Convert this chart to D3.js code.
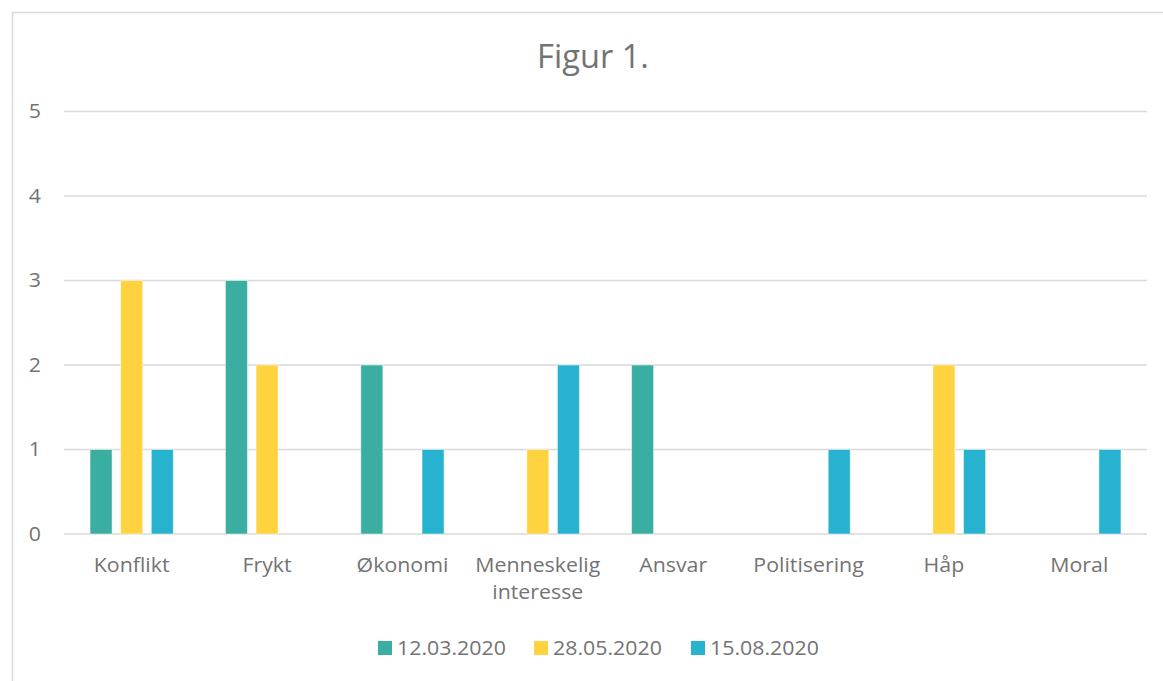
<!DOCTYPE html>
<html><head><meta charset="utf-8">
<script src="https://cdn.jsdelivr.net/npm/d3@7"></script>
<style>body{margin:0;background:#fff;} svg{display:block;font-family:"Open Sans",Lato,sans-serif;}</style>
</head><body>
<svg id="c" width="1163" height="681"></svg>
<script>
const categories = ["Konflikt","Frykt","Økonomi","Menneskelig interesse","Ansvar","Politisering","Håp","Moral"];
const seriesNames = ["12.03.2020","28.05.2020","15.08.2020"];
const s1 = [1,3,2,0,2,0,0,0];
const s2 = [3,2,0,1,0,0,2,0];
const s3 = [1,0,1,2,0,1,1,1];
const yTicks = [0,1,2,3,4,5];
const colors = ["#3AAFA1","#FFD23F","#27B2CF"];
const series = [s1,s2,s3];
const txt = "#737373";
const SX = 1.095, FS = 19.5;

const svg = d3.select("#c");
svg.append("rect").attr("x",12.5).attr("y",12.5).attr("width",1170).attr("height",690)
  .attr("fill","#fff").attr("stroke","#d9d9d9").attr("stroke-width",1.5);

const pL=64, pR=1147, pT=111.5, pB=534;
const x = d3.scaleBand().domain(categories).range([pL,pR]).paddingInner(0).paddingOuter(0);
const xs = d3.scaleBand().domain(seriesNames).range([0,83.3]).paddingInner(0.28);
const y = d3.scaleLinear().domain([0,5]).range([pB,pT]);

function label(parent, tx, ty, anchor, size, sx){
  return parent.append("text").attr("transform",`translate(${tx},${ty}) scale(${sx},1)`)
    .attr("text-anchor",anchor).attr("font-size",size).attr("fill",txt);
}

label(svg,593,68,"middle",32,1.02).text("Figur 1.");

const g = svg.append("g");
g.selectAll("line.grid").data(yTicks).join("line")
  .attr("x1",pL).attr("x2",pR).attr("y1",d=>y(d)).attr("y2",d=>y(d))
  .attr("stroke","#d9d9d9").attr("stroke-width",1.5);
yTicks.forEach(d=>label(g,41,y(d)+6.5,"end",FS,SX).text(d));

const off = x.bandwidth()/2 - 83.3/2;
seriesNames.forEach((s,i)=>{
  g.selectAll("rect.s"+i).data(categories.map((c,j)=>({c,v:series[i][j]})).filter(d=>d.v>0)).join("rect")
    .attr("class","s"+i)
    .attr("x",d=>x(d.c)+off+xs(s)).attr("width",xs.bandwidth())
    .attr("y",d=>y(d.v)).attr("height",d=>y(0)-y(d.v))
    .attr("fill",colors[i]).attr("stroke","#fff").attr("stroke-opacity",0.5).attr("stroke-width",1);
});

categories.forEach(c=>{
  const words = c.split(" ");
  const t = label(g,x(c)+x.bandwidth()/2,572,"middle",FS,SX);
  words.forEach((w,k)=>t.append("tspan").attr("x",0).attr("dy",k?27:0).text(w));
});

const legX=[378,534,691];
seriesNames.forEach((s,i)=>{
  svg.append("rect").attr("x",legX[i]).attr("y",641).attr("width",14).attr("height",14).attr("fill",colors[i]);
  label(svg,legX[i]+19,655,"start",FS,SX).text(s);
});
</script>
</body></html>
